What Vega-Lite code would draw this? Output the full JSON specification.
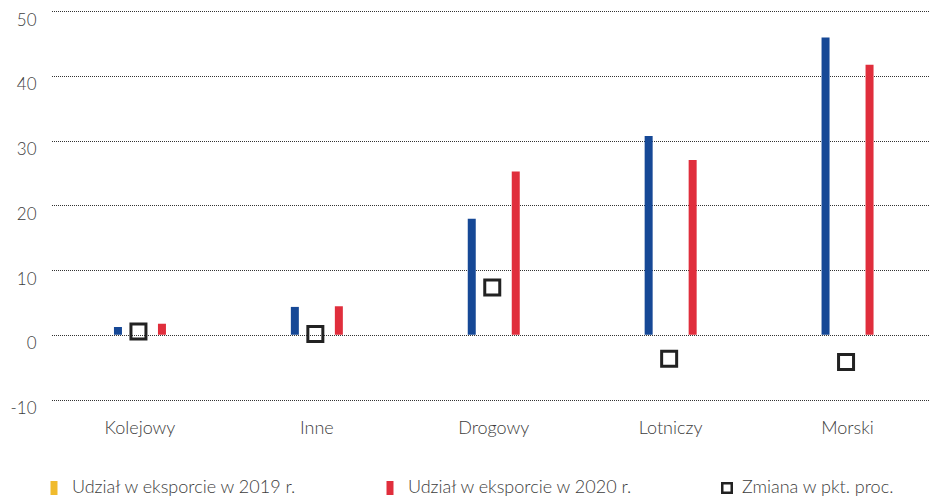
{
  "$schema": "https://vega.github.io/schema/vega-lite/v6.json",
  "width": 878,
  "height": 388.5,
  "autosize": {"type": "none"},
  "padding": {"left": 51, "top": 11, "right": 0, "bottom": 99.5},
  "background": "white",
  "config": {
    "view": {"stroke": null},
    "font": "Lato",
    "axis": {"labelFont": "Lato", "labelColor": "#3d3d3d", "labelFontWeight": 300},
    "legend": {"labelFont": "Lato", "labelColor": "#3d3d3d", "labelFontSize": 18, "labelFontWeight": 300, "padding": 0}
  },
  "data": {
    "values": [
      {"rodzaj": "Kolejowy", "seria": "Udział w eksporcie w 2019 r.", "wartosc": 1.2},
      {"rodzaj": "Kolejowy", "seria": "Udział w eksporcie w 2020 r.", "wartosc": 1.7},
      {"rodzaj": "Kolejowy", "seria": "Zmiana w pkt. proc.", "wartosc": 0.5},
      {"rodzaj": "Inne", "seria": "Udział w eksporcie w 2019 r.", "wartosc": 4.3},
      {"rodzaj": "Inne", "seria": "Udział w eksporcie w 2020 r.", "wartosc": 4.4},
      {"rodzaj": "Inne", "seria": "Zmiana w pkt. proc.", "wartosc": 0.1},
      {"rodzaj": "Drogowy", "seria": "Udział w eksporcie w 2019 r.", "wartosc": 17.9},
      {"rodzaj": "Drogowy", "seria": "Udział w eksporcie w 2020 r.", "wartosc": 25.2},
      {"rodzaj": "Drogowy", "seria": "Zmiana w pkt. proc.", "wartosc": 7.3},
      {"rodzaj": "Lotniczy", "seria": "Udział w eksporcie w 2019 r.", "wartosc": 30.7},
      {"rodzaj": "Lotniczy", "seria": "Udział w eksporcie w 2020 r.", "wartosc": 27.0},
      {"rodzaj": "Lotniczy", "seria": "Zmiana w pkt. proc.", "wartosc": -3.7},
      {"rodzaj": "Morski", "seria": "Udział w eksporcie w 2019 r.", "wartosc": 45.9},
      {"rodzaj": "Morski", "seria": "Udział w eksporcie w 2020 r.", "wartosc": 41.7},
      {"rodzaj": "Morski", "seria": "Zmiana w pkt. proc.", "wartosc": -4.2}
    ]
  },
  "encoding": {
    "x": {
      "field": "rodzaj",
      "type": "nominal",
      "sort": ["Kolejowy", "Inne", "Drogowy", "Lotniczy", "Morski"],
      "scale": {"type": "band", "paddingInner": 0, "paddingOuter": 0, "range": [0.5, 885]},
      "axis": {
        "title": null,
        "labelAngle": 0,
        "labelFontSize": 18,
        "domain": false,
        "ticks": false,
        "tickSize": 0,
        "labelBaseline": "alphabetic",
        "labelPadding": 33.5,
        "grid": false
      }
    },
    "y": {
      "field": "wartosc",
      "type": "quantitative",
      "scale": {"domain": [-10, 50], "nice": false, "zero": false},
      "axis": {
        "title": null,
        "values": [-10, 0, 10, 20, 30, 40, 50],
        "labelExpr": "replace(datum.label, '\u2212', '-')",
        "labelFontSize": 17,
        "domain": false,
        "ticks": false,
        "tickSize": 0,
        "labelPadding": 15,
        "labelAlign": "right",
        "labelBaseline": "alphabetic",
        "labelOffset": 14,
        "grid": true,
        "gridColor": "#333333",
        "gridDash": [1, 1],
        "gridWidth": 1
      }
    }
  },
  "layer": [
    {
      "transform": [{"filter": "datum.seria === 'Udział w eksporcie w 2019 r.'"}],
      "mark": {"type": "bar", "width": 8, "xOffset": -22, "fill": "#164896"},
      "encoding": {
        "color": {
          "field": "seria",
          "type": "nominal",
          "scale": {
            "domain": ["Udział w eksporcie w 2019 r.", "Udział w eksporcie w 2020 r."],
            "range": ["#f0bb2e", "#e02e3c"]
          },
          "legend": {
            "title": null,
            "orient": "none",
            "direction": "horizontal",
            "legendX": -6,
            "legendY": 468,
            "gridAlign": "all",
            "columnPadding": 83,
            "labelOffset": 9,
            "labelLimit": 400,
            "symbolSize": 196,
            "symbolType": "M-0.5,-1H0.5V1H-0.5Z",
            "symbolStrokeWidth": 0,
            "symbolOpacity": 1
          }
        }
      }
    },
    {
      "transform": [{"filter": "datum.seria === 'Udział w eksporcie w 2020 r.'"}],
      "mark": {"type": "bar", "width": 8, "xOffset": 22},
      "encoding": {
        "color": {"field": "seria", "type": "nominal"}
      }
    },
    {
      "transform": [{"filter": "datum.seria === 'Zmiana w pkt. proc.'"}],
      "mark": {"type": "point", "filled": false, "size": 225, "strokeWidth": 3, "opacity": 1, "color": "#222222", "xOffset": -1.5},
      "encoding": {
        "shape": {
          "field": "seria",
          "type": "nominal",
          "scale": {"domain": ["Zmiana w pkt. proc."], "range": ["square"]},
          "legend": {
            "title": null,
            "orient": "none",
            "direction": "horizontal",
            "legendX": 667,
            "legendY": 468,
            "labelOffset": 6,
            "labelLimit": 400,
            "symbolSize": 90,
            "symbolStrokeWidth": 2.5,
            "symbolStrokeColor": "#222222",
            "symbolFillColor": "transparent",
            "symbolOpacity": 1
          }
        }
      }
    }
  ]
}
